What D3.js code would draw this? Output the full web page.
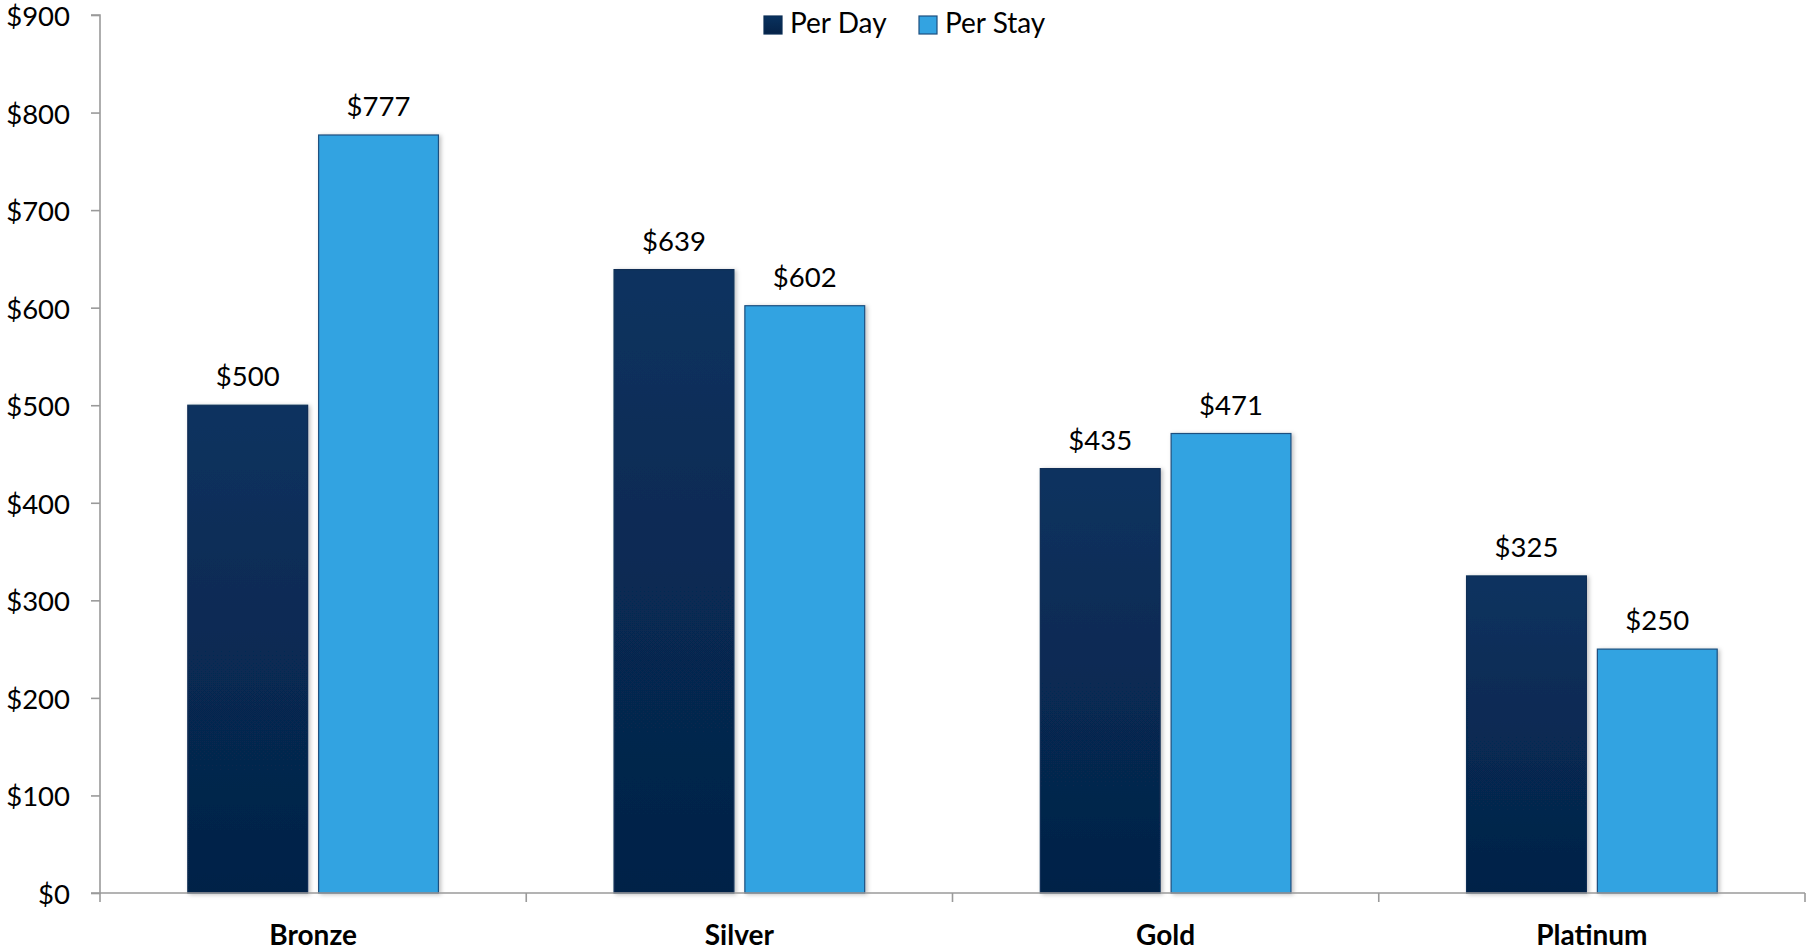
<!DOCTYPE html>
<html>
<head>
<meta charset="utf-8">
<script src="https://cdn.jsdelivr.net/npm/d3@7"></script>
<style>
  html, body { margin: 0; padding: 0; background: #fff; }
  svg { display: block; }
</style>
</head>
<body>
<svg id="chart"></svg>
<script>
const categories = ['Bronze', 'Silver', 'Gold', 'Platinum']
const seriesNames = ['Per Day', 'Per Stay']
const perDay = [500, 639, 435, 325]
const perStay = [777, 602, 471, 250]
const yTicks = [0, 100, 200, 300, 400, 500, 600, 700, 800, 900]

const width = 1806
const height = 951
const margin = { top: 15, right: 1, bottom: 58, left: 100 }

const svg = d3.select('#chart')
  .attr('width', width)
  .attr('height', height)

const defs = svg.append('defs')

const grad = defs.append('linearGradient')
  .attr('id', 'dayGrad')
  .attr('x1', 0).attr('y1', 0).attr('x2', 0).attr('y2', 1)
grad.append('stop').attr('offset', '0%').attr('stop-color', '#09325f')
grad.append('stop').attr('offset', '100%').attr('stop-color', '#052247')

const shadow = defs.append('filter')
  .attr('id', 'shadow')
  .attr('x', '-10%').attr('y', '-10%').attr('width', '130%').attr('height', '130%')
shadow.append('feDropShadow')
  .attr('dx', 2).attr('dy', 1).attr('stdDeviation', 2)
  .attr('flood-color', '#000').attr('flood-opacity', 0.25)

const colors = { 'Per Day': 'url(#dayGrad)', 'Per Stay': '#33a3e1' }
const strokes = { 'Per Day': '#0a2d55', 'Per Stay': '#1d4f7f' }

const data = categories.map((c, i) => ({
  category: c,
  values: [
    { key: 'Per Day', value: perDay[i] },
    { key: 'Per Stay', value: perStay[i] }
  ]
}))

const x0 = d3.scaleBand()
  .domain(categories)
  .range([margin.left, width - margin.right])
  .paddingInner(0.412)
  .paddingOuter(0.206)

const xOuter = d3.scalePoint()
  .domain(d3.range(categories.length + 1))
  .range([margin.left, width - margin.right])

const x1 = d3.scaleBand()
  .domain(seriesNames)
  .range([0, x0.bandwidth()])
  .paddingInner(0.084)

const y = d3.scaleLinear()
  .domain([0, 900])
  .range([height - margin.bottom, margin.top])

const axisColor = '#9a9a9a'
const font = 'Lato, "Open Sans", sans-serif'

// Bars
const groups = svg.append('g')
  .selectAll('g')
  .data(data)
  .join('g')
  .attr('transform', (d) => `translate(${x0(d.category)},0)`)

groups.selectAll('rect')
  .data((d) => d.values)
  .join('rect')
  .attr('x', (d) => x1(d.key))
  .attr('y', (d) => y(d.value))
  .attr('width', x1.bandwidth())
  .attr('height', (d) => y(0) - y(d.value))
  .attr('fill', (d) => colors[d.key])
  .attr('stroke', (d) => strokes[d.key])
  .attr('stroke-width', 1.2)
  .attr('filter', 'url(#shadow)')

groups.selectAll('text')
  .data((d) => d.values)
  .join('text')
  .attr('x', (d) => x1(d.key) + x1.bandwidth() / 2)
  .attr('y', (d) => y(d.value) - 19)
  .attr('text-anchor', 'middle')
  .attr('font-family', font)
  .attr('font-size', 27.5)
  .attr('fill', '#000')
  .text((d) => '$' + d.value)

// Y axis
const yAxisG = svg.append('g')
  .attr('transform', `translate(${margin.left},0)`)
  .call(d3.axisLeft(y).tickValues(yTicks).tickSize(9).tickPadding(21).tickFormat((d) => '$' + d))
yAxisG.select('.domain').attr('stroke', axisColor).attr('stroke-width', 1.6)
  .attr('d', `M-9,${y(900)}H0V${y(0)}H-9`)
yAxisG.selectAll('.tick line').attr('stroke', axisColor).attr('stroke-width', 1.6)
yAxisG.selectAll('.tick text')
  .attr('font-family', font)
  .attr('font-size', 27.5)
  .attr('fill', '#000')
  .attr('dy', '0.38em')

// X axis
const xAxisG = svg.append('g')
  .attr('transform', `translate(0,${y(0)})`)
xAxisG.append('line')
  .attr('x1', margin.left).attr('x2', width - margin.right)
  .attr('stroke', axisColor).attr('stroke-width', 1.6)
xAxisG.selectAll('line.sep')
  .data(xOuter.domain())
  .join('line')
  .attr('class', 'sep')
  .attr('x1', (d) => xOuter(d)).attr('x2', (d) => xOuter(d))
  .attr('y1', 0).attr('y2', 9)
  .attr('stroke', axisColor).attr('stroke-width', 1.6)
xAxisG.selectAll('text')
  .data(categories)
  .join('text')
  .attr('x', (d) => x0(d) + x0.bandwidth() / 2)
  .attr('y', 52)
  .attr('text-anchor', 'middle')
  .attr('font-family', font)
  .attr('font-weight', 'bold')
  .attr('font-size', 28)
  .attr('fill', '#000')
  .text((d) => d)

// Legend
const legendItems = [
  { key: 'Per Day', x: 764 },
  { key: 'Per Stay', x: 919 }
]
const legend = svg.append('g')
const li = legend.selectAll('g')
  .data(legendItems)
  .join('g')
  .attr('transform', (d) => `translate(${d.x},16)`)
li.append('rect')
  .attr('width', 18).attr('height', 18)
  .attr('fill', (d) => colors[d.key])
  .attr('stroke', (d) => strokes[d.key])
  .attr('stroke-width', 1.2)
li.append('text')
  .attr('x', 26)
  .attr('y', 17)
  .attr('font-family', font)
  .attr('font-size', 28)
  .attr('fill', '#000')
  .text((d) => d.key)
</script>
</body>
</html>
